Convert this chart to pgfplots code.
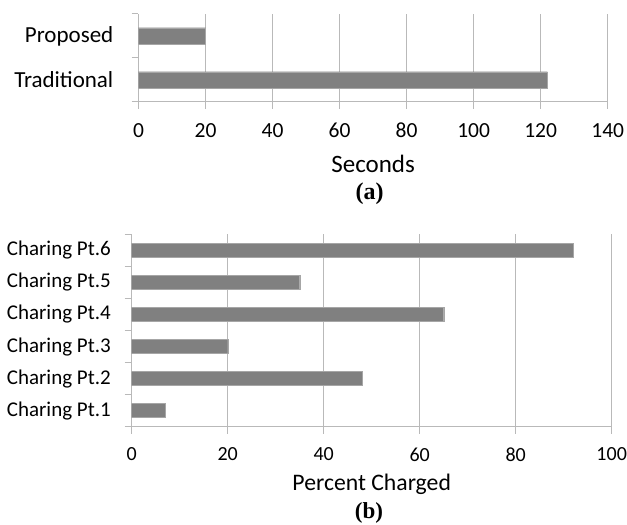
\documentclass[border=0pt]{standalone}
\usepackage{fontspec}
\setmainfont{Carlito}
\newfontfamily\serifb{Liberation Serif}
\usepackage{pgfplots}
\pgfplotsset{compat=1.18}
\definecolor{bargray}{RGB}{128,128,128}
\definecolor{gridgray}{RGB}{185,185,185}
\pgfplotsset{
  excelbar/.style={
    scale only axis, xbar, enlargelimits=false,
    axis x line*=bottom, axis y line*=left,
    axis line style={gridgray, line width=1pt},
    xmajorgrids, grid style={gridgray, line width=1pt},
    tick align=outside, major tick length=7pt,
    tick style={gridgray, line width=1pt},
    y tick label as interval,
    /pgf/number format/assume math mode=true,
    xticklabel style={anchor=north, inner sep=0pt, yshift=-14pt},
    yticklabel style={anchor=east, inner sep=0pt},
  }
}
\begin{document}
\begin{tikzpicture}
\path[use as bounding box] (0pt,0pt) rectangle (627pt,525pt);
% ---------- (a) ----------
\begin{axis}[excelbar,
  at={(138.5pt,423pt)}, anchor=south west,
  width=469.2pt, height=88pt,
  xmin=0, xmax=140, ymin=-0.5, ymax=1.5,
  bar width=16.5pt,
  xtick={0,20,...,140},
  ytick={-0.5,0.5,1.5},
  yticklabels={Traditional,Proposed},
  xticklabel style={font=\fontsize{21.5}{24}\selectfont},
  yticklabel style={font=\fontsize{23}{26}\selectfont, xshift=-18pt},
  xlabel={Seconds},
  xlabel style={font=\fontsize{25}{28}\selectfont, at={(axis description cs:0.5,0)}, anchor=center, yshift=-62pt},
]
\addplot[fill=bargray, draw=bargray!70!white] coordinates {(122,0) (20,1)};
\end{axis}
\node[font=\serifb\bfseries\fontsize{24}{27}\selectfont] at (369.5pt,331pt) {(a)};
% ---------- (b) ----------
\begin{axis}[excelbar,
  at={(131.7pt,98.3pt)}, anchor=south west,
  width=480pt, height=192.4pt,
  xmin=0, xmax=100, ymin=0.5, ymax=6.5,
  bar width=14pt,
  xtick={0,20,...,100},
  ytick={0.5,1.5,...,6.5},
  yticklabels={Charing Pt.1,Charing Pt.2,Charing Pt.3,Charing Pt.4,Charing Pt.5,Charing Pt.6},
  xticklabel style={font=\fontsize{20}{23}\selectfont},
  yticklabel style={font=\fontsize{21}{24}\selectfont, xshift=-13.6pt},
  xlabel={Percent Charged},
  xlabel style={font=\fontsize{23.7}{27}\selectfont, at={(axis description cs:0.5,0)}, anchor=center, yshift=-58pt},
]
\addplot[fill=bargray, draw=bargray!70!white] coordinates {(7,1) (48,2) (20,3) (65,4) (35,5) (92,6)};
\end{axis}
\node[font=\serifb\bfseries\fontsize{23}{26}\selectfont] at (369pt,12pt) {(b)};
\end{tikzpicture}
\end{document}
